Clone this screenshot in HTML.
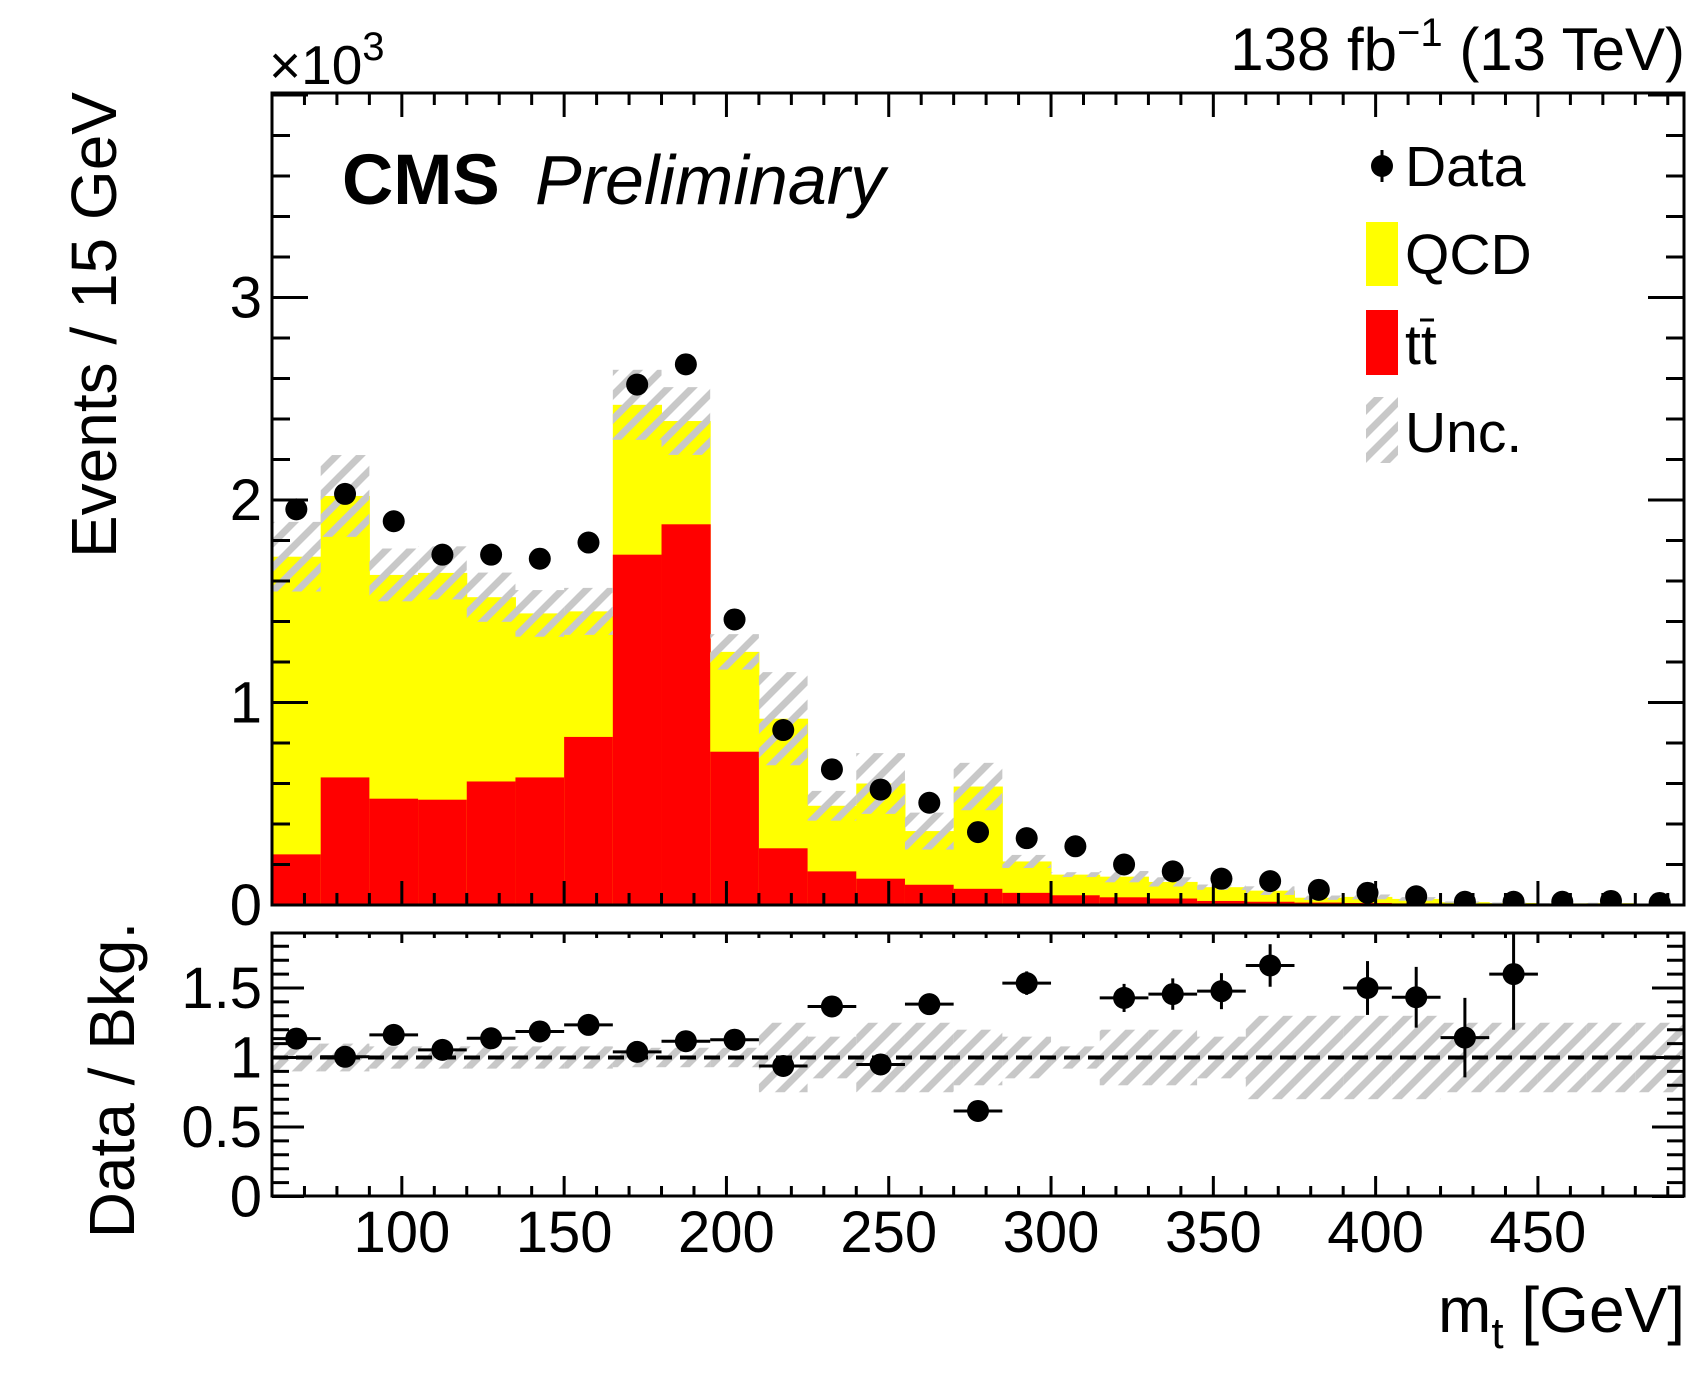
<!DOCTYPE html>
<html><head><meta charset="utf-8"><style>
html,body{margin:0;padding:0;background:#fff}
svg{display:block;font-family:"Liberation Sans",Arial,sans-serif}
</style></head><body>
<svg id="c" width="1701" height="1373" viewBox="0 0 1701 1373" xmlns="http://www.w3.org/2000/svg">
<defs>
<pattern id="hatch" patternUnits="userSpaceOnUse" width="24" height="24">
<path d="M-6,30 L30,-6 M-18,18 L18,-18 M6,42 L42,6" stroke="#c8c8c8" stroke-width="7"/>
</pattern>
<clipPath id="clipMain"><rect x="272" y="93" width="1412" height="812"/></clipPath>
<clipPath id="clipRatio"><rect x="272" y="933" width="1412" height="263"/></clipPath>
</defs>
<g id="mainPlot" clip-path="url(#clipMain)"></g>
<g id="ratioPlot" clip-path="url(#clipRatio)"></g>
<g id="axes"></g>
<text x="342" y="204" font-size="71" font-weight="bold">CMS</text>
<text x="535" y="204" font-size="70" font-style="italic">Preliminary</text>
<text x="1685" y="70" font-size="60" text-anchor="end">138 fb<tspan dy="-24" font-size="40">−1</tspan><tspan dy="24"> (13 TeV)</tspan></text>
<text x="269" y="84" font-size="55">×10<tspan dy="-24" font-size="40">3</tspan></text>
<text transform="translate(116,92) rotate(-90)" font-size="64" text-anchor="end">Events / 15 GeV</text>
<text transform="translate(134,1080) rotate(-90)" font-size="64" text-anchor="middle">Data / Bkg.</text>
<text x="1685" y="1332" font-size="64" text-anchor="end">m<tspan dy="16" font-size="44">t</tspan><tspan dy="-16"> [GeV]</tspan></text>
<g>
<g>
<line x1="1382" y1="150" x2="1382" y2="182" stroke="#000" stroke-width="3"/>
<circle cx="1382" cy="166" r="11" fill="#000"/>
<text x="1405" y="186" font-size="57">Data</text></g>
<g>
<rect x="1366" y="222" width="32" height="64" fill="#ffff00"/>
<text x="1405" y="274" font-size="57">QCD</text></g>
<g>
<rect x="1366" y="310" width="32" height="65" fill="#ff0000"/>
<text x="1405" y="364" font-size="57">tt</text>
<line x1="1420" y1="320" x2="1434" y2="320" stroke="#000" stroke-width="3"/></g>
<g>
<rect x="1366" y="397" width="32" height="66" fill="url(#hatch)"/>
<text x="1405" y="452" font-size="57">Unc.</text></g>
</g>
</svg>
<script>
const binEdgesStart = 60, binWidth = 15;
const dataVals = [1.954,2.03,1.895,1.73,1.73,1.71,1.79,2.57,2.67,1.41,0.864,0.67,0.57,0.505,0.36,0.33,0.29,0.20,0.166,0.13,0.118,0.075,0.06,0.043,0.016,0.016,0.016,0.02,0.01];
const totalBkg = [1.72,2.02,1.63,1.64,1.52,1.44,1.45,2.47,2.39,1.25,0.92,0.49,0.60,0.365,0.585,0.215,0.15,0.14,0.114,0.088,0.071,0.036,0.04,0.03,0.014,0.01,0.008,0.009,0.005];
const ttbarVals = [0.25,0.63,0.525,0.52,0.61,0.63,0.83,1.73,1.88,0.757,0.28,0.166,0.13,0.10,0.08,0.06,0.048,0.038,0.032,0.02,0.016,0.012,0.01,0.008,0.006,0.005,0.004,0.003,0.002];
const relUnc = [0.1,0.1,0.08,0.08,0.08,0.08,0.08,0.07,0.07,0.07,0.25,0.15,0.25,0.25,0.2,0.15,0.08,0.2,0.2,0.15,0.3,0.3,0.3,0.3,0.25,0.25,0.25,0.25,0.25];
const xTicks = [100,150,200,250,300,350,400,450];
const yTicks = [0,1,2,3];
const rTicks = [0,0.5,1,1.5];
const rTickLabels = ["0","0.5","1","1.5"];

const NS="http://www.w3.org/2000/svg";
const X = v => 272 + (v-60)*(1412/435);
const Ym = v => 905 - v*202.5;
const Yr = v => 1196.5 - v*139;
function mk(parent,tag,attrs){const e=document.createElementNS(NS,tag);for(const k in attrs)e.setAttribute(k,attrs[k]);parent.appendChild(e);return e;}
const main=document.getElementById('mainPlot');
const ratio=document.getElementById('ratioPlot');
const axes=document.getElementById('axes');
const n=dataVals.length;
for(let i=0;i<n;i++){
  const lo=binEdgesStart+i*binWidth, hi=lo+binWidth;
  let r=mk(main,'rect',{x:X(lo),y:Ym(totalBkg[i]),width:X(hi)-X(lo)+0.5,height:Ym(0)-Ym(totalBkg[i]),fill:'#ffff00'});
  
  
  r=mk(main,'rect',{x:X(lo),y:Ym(ttbarVals[i]),width:X(hi)-X(lo)+0.5,height:Ym(0)-Ym(ttbarVals[i]),fill:'#ff0000'});
  
  
}
for(let i=0;i<n;i++){
  const lo=binEdgesStart+i*binWidth, hi=lo+binWidth, t=totalBkg[i], u=relUnc[i];
  let r=mk(main,'rect',{x:X(lo),y:Ym(t*(1+u)),width:X(hi)-X(lo),height:Ym(t*(1-u))-Ym(t*(1+u)),fill:'url(#hatch)'});
  
  
  r=mk(ratio,'rect',{x:X(lo),y:Yr(1+u),width:X(hi)-X(lo),height:Yr(1-u)-Yr(1+u),fill:'url(#hatch)'});
  
  
}
let dl=mk(ratio,'line',{x1:272,y1:Yr(1),x2:1684,y2:Yr(1),stroke:'#000','stroke-width':4,'stroke-dasharray':'16 8'});


for(let i=0;i<n;i++){
  const c=binEdgesStart+(i+0.5)*binWidth, d=dataVals[i], err=Math.sqrt(d*1000)/1000;
  const g=mk(main,'g',{});
  
  
  mk(g,'line',{x1:X(c),x2:X(c),y1:Ym(d+err),y2:Ym(Math.max(0,d-err)),stroke:'#000','stroke-width':3});
  mk(g,'circle',{cx:X(c),cy:Ym(d),r:11,fill:'#000'});
  const rv=d/totalBkg[i], re=err/totalBkg[i];
  if(rv<1.9){
    const g2=mk(ratio,'g',{});
    
    
    mk(g2,'line',{x1:X(c-7.5),x2:X(c+7.5),y1:Yr(rv),y2:Yr(rv),stroke:'#000','stroke-width':3});
    mk(g2,'line',{x1:X(c),x2:X(c),y1:Yr(rv+re),y2:Yr(Math.max(0,rv-re)),stroke:'#000','stroke-width':3});
    mk(g2,'circle',{cx:X(c),cy:Yr(rv),r:11,fill:'#000'});
  }
}
let f=mk(axes,'rect',{x:272,y:93,width:1412,height:812,fill:'none',stroke:'#000','stroke-width':3});


f=mk(axes,'rect',{x:272,y:933,width:1412,height:263,fill:'none',stroke:'#000','stroke-width':3});


for(let v=70;v<=490;v+=10){
  const maj=v%50===0, x=X(v);
  const L=maj?24:12, Lr=maj?10:5;
  mk(axes,'line',{x1:x,x2:x,y1:905,y2:905-L,stroke:'#000','stroke-width':3});
  mk(axes,'line',{x1:x,x2:x,y1:93,y2:93+L,stroke:'#000','stroke-width':3});
  mk(axes,'line',{x1:x,x2:x,y1:1196,y2:1196-Lr*2,stroke:'#000','stroke-width':3});
  mk(axes,'line',{x1:x,x2:x,y1:933,y2:933+Lr,stroke:'#000','stroke-width':3});
}
xTicks.forEach(v=>{
  const t=mk(axes,'text',{x:X(v),y:1252,'font-size':58,'text-anchor':'middle'});
  t.textContent=v;
  
  
});
for(let k=0;k<=20;k++){
  const v=k*0.2, y=Ym(v), maj=(k%5===0), L=maj?36:18;
  mk(axes,'line',{x1:272,x2:272+L,y1:y,y2:y,stroke:'#000','stroke-width':3});
  mk(axes,'line',{x1:1684,x2:1684-L,y1:y,y2:y,stroke:'#000','stroke-width':3});
}
yTicks.forEach(v=>{
  const t=mk(axes,'text',{x:262,y:Ym(v)+20,'font-size':58,'text-anchor':'end'});
  t.textContent=v;
  
  
});
for(let k=0;k<=18;k++){
  const v=k*0.1, y=Yr(v), maj=(k%5===0), L=maj?32:17;
  mk(axes,'line',{x1:272,x2:272+L,y1:y,y2:y,stroke:'#000','stroke-width':3});
  mk(axes,'line',{x1:1684,x2:1684-L,y1:y,y2:y,stroke:'#000','stroke-width':3});
}
rTicks.forEach((v,i)=>{
  const t=mk(axes,'text',{x:262,y:Yr(v)+20,'font-size':58,'text-anchor':'end'});
  t.textContent=rTickLabels[i];
  
  
});
</script>
</body></html>
